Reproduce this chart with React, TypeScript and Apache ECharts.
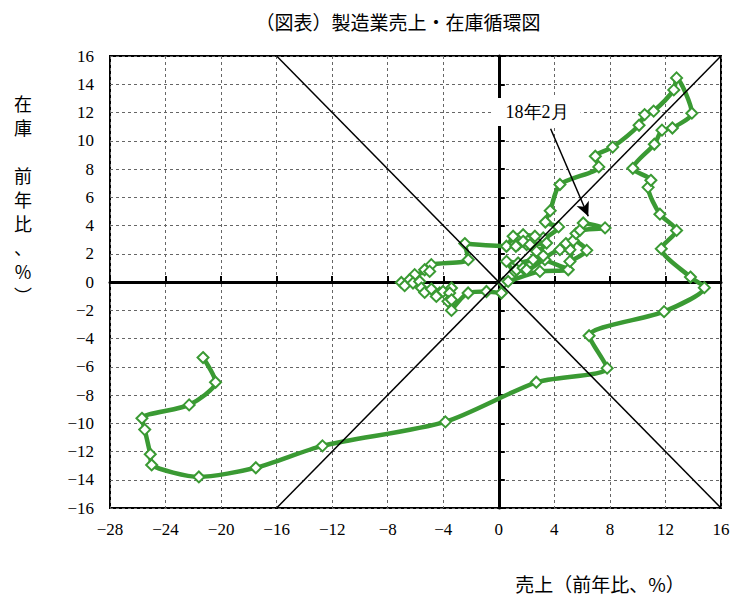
import React, { useEffect, useRef } from "react";
import * as echarts from "echarts";

const titleText = "（図表）製造業売上・在庫循環図";
const xAxisTitle = "売上（前年比、%）";
const yAxisTitleLines = ["在", "庫", "", "前", "年", "比", "、", "%", "︶"];
const annotationText = "18年2月";

// 売上 前年比 (x) / 在庫 前年比 (y), in chronological order
const sales = [
  -21.3, -20.4, -22.3, -25.7, -25.5, -25.1, -25.0, -21.6, -17.5, -12.7, -3.85, 2.7, 7.8, 6.5, 11.9, 14.8,
  13.8, 11.7, 12.8, 11.6, 10.75, 10.95, 9.65, 11.2, 11.75, 12.5, 13.9, 12.8, 12.6, 11.15, 10.5, 10.1, 8.2,
  6.95, 7.2, 4.4, 3.7, 3.35, 4.3,
  3.2, 2.6, 1.75, 1.03, 0.55, -2.45, -2.2, -4.86, -5.34, -4.98, -6.06, -6.42, -7.02, -6.78, -6.18, -5.7,
  -5.58, -5.34, -4.86, -4.26, -4.5, -4.02, -3.41, -3.54, -3.66, -3.41, -3.41, -2.21, -0.89, 0.19, 0.31,
  0.67, 2.96, 5.0, 3.32, 2.96, 3.44, 2.0, 1.39, 1.23, 1.75, 2.24, 2.72, 3.2, 2.47, 1.39, 0.55, 1.15, 1.28,
  1.75, 2.0, 4.4, 5.12, 4.83, 5.36, 6.33, 5.12, 5.56, 5.84, 7.65, 6.08,
];
const inventory = [
  -5.35, -7.1, -8.7, -9.65, -10.45, -12.2, -12.95, -13.8, -13.15, -11.6, -9.9, -7.1, -6.1, -3.8, -2.1, -0.4,
  0.35, 2.35, 3.65, 4.8, 6.7, 7.2, 8.05, 9.75, 10.75, 10.9, 11.95, 14.45, 13.6, 12.1, 11.85, 11.1, 9.55,
  8.9, 8.15, 6.9, 5.05, 4.25, 3.9,
  3.12, 3.24, 3.35, 3.24, 2.53, 2.72, 1.58, 1.23, 0.87, 0.75, 0.52, 0.16, -0.03, -0.26, -0.07, 0.04,
  -0.43, -0.74, -0.5, -0.78, -1.02, -0.67, -0.43, -0.78, -1.37, -1.26, -2.01, -0.78, -0.67, -0.78, -0.07,
  0.04, 0.75, 0.87, 1.58, 2.05, 2.76, 2.65, 2.65, 2.53, 2.88, 2.65, 2.17, 1.86, 1.58, 1.35, 1.46, 0.75, 0.87,
  0.99, 0.87, 2.29, 2.29, 2.72, 2.93, 2.24, 1.46, 3.43, 3.66, 3.83, 4.18,
];

const xRange = { min: -28, max: 16, interval: 4 };
const yRange = { min: -16, max: 16, interval: 2 };
const diagUp = [[-16, -16], [16, 16]];
const diagDown = [[-16, 16], [16, -16]];
const arrowFrom = [3.73, 10.85];
const arrowTo = [6.44, 4.65];

const NUM_FONT = "Liberation Serif";
const CJK_FONT = "Noto Sans CJK JP";
const GREEN = "#3a9a33";

const fmt = (v: number) => String(v).replace("-", "−");

export default function App() {
  const ref = useRef<HTMLDivElement>(null);
  useEffect(() => {
    if (!ref.current) return;
    const chart = echarts.init(ref.current, undefined, { renderer: "svg" });
    const points = sales.map((s, i) => [s, inventory[i]]);
    const split = { show: true, lineStyle: { color: "#666", type: [3, 3] as any, width: 1 } };
    chart.setOption({
      animation: false,
      backgroundColor: "#fff",
      textStyle: { fontFamily: NUM_FONT },
      grid: { left: 110, top: 56, width: 611, height: 452, show: true, borderColor: "#000", borderWidth: 2, backgroundColor: "transparent" },
      xAxis: [
        {
          type: "value", ...xRange, position: "bottom",
          axisLine: { show: false, onZero: false },
          axisTick: { show: false },
          splitLine: split,
          axisLabel: { color: "#000", fontFamily: NUM_FONT, fontSize: 17, margin: 13, formatter: fmt },
        },
        {
          type: "value", ...xRange, position: "top",
          axisLine: { show: true, onZero: true, lineStyle: { color: "#000", width: 3 } },
          axisTick: { show: true, inside: false, length: 6, lineStyle: { color: "#000", width: 2 } },
          axisLabel: { show: false },
          splitLine: { show: false },
        },
      ],
      yAxis: [
        {
          type: "value", ...yRange, position: "left",
          axisLine: { show: false, onZero: false },
          axisTick: { show: false },
          splitLine: split,
          axisLabel: { color: "#000", fontFamily: NUM_FONT, fontSize: 17, margin: 16, formatter: fmt },
        },
        {
          type: "value", ...yRange, position: "right",
          axisLine: { show: true, onZero: true, lineStyle: { color: "#000", width: 3 } },
          axisTick: { show: true, inside: false, length: 6, lineStyle: { color: "#000", width: 2 } },
          axisLabel: { show: false },
          splitLine: { show: false },
        },
      ],
      series: [
        {
          type: "line", xAxisIndex: 0, yAxisIndex: 0, z: 3,
          data: points,
          smooth: 0.25,
          symbol: "diamond", symbolSize: 11,
          lineStyle: { color: GREEN, width: 4.5 },
          itemStyle: { color: "#fff", borderColor: GREEN, borderWidth: 2 },
        },
        {
          type: "line", xAxisIndex: 0, yAxisIndex: 0, z: 4,
          data: diagUp, symbol: "none", silent: true,
          lineStyle: { color: "#000", width: 1.5 },
          markLine: {
            silent: true, symbol: ["none", "arrow"], symbolSize: [10, 14],
            lineStyle: { color: "#000", width: 1.5, type: "solid" },
            label: { show: false },
            data: [[{ coord: arrowFrom }, { coord: arrowTo }]],
          },
        },
        {
          type: "line", xAxisIndex: 0, yAxisIndex: 0, z: 4,
          data: diagDown, symbol: "none", silent: true,
          lineStyle: { color: "#000", width: 1.5 },
        },
      ],
      graphic: [
        {
          type: "text", x: 398, y: 21, z: 10,
          style: { text: titleText, fontSize: 19, fontFamily: CJK_FONT, fill: "#000", align: "center", verticalAlign: "middle" },
        },
        {
          type: "text", x: 600, y: 583, z: 10,
          style: { text: xAxisTitle, fontSize: 19, fontFamily: CJK_FONT, fill: "#000", align: "center", verticalAlign: "middle" },
        },
        {
          type: "text", x: 23, y: 91, z: 10,
          style: { text: yAxisTitleLines.join("\n"), fontSize: 18, lineHeight: 24, fontFamily: CJK_FONT, fill: "#000", align: "center", verticalAlign: "top" },
        },
        {
          type: "text", x: 537, y: 112, z: 10,
          style: {
            text: annotationText, fontSize: 18, fontFamily: NUM_FONT, fill: "#000", align: "center", verticalAlign: "middle",
            backgroundColor: "#fff", padding: [5, 12],
          },
        },
      ],
    });
    return () => chart.dispose();
  }, []);
  return <div ref={ref} style={{ position: "fixed", left: 0, top: 0, width: 739, height: 607 }} />;
}
